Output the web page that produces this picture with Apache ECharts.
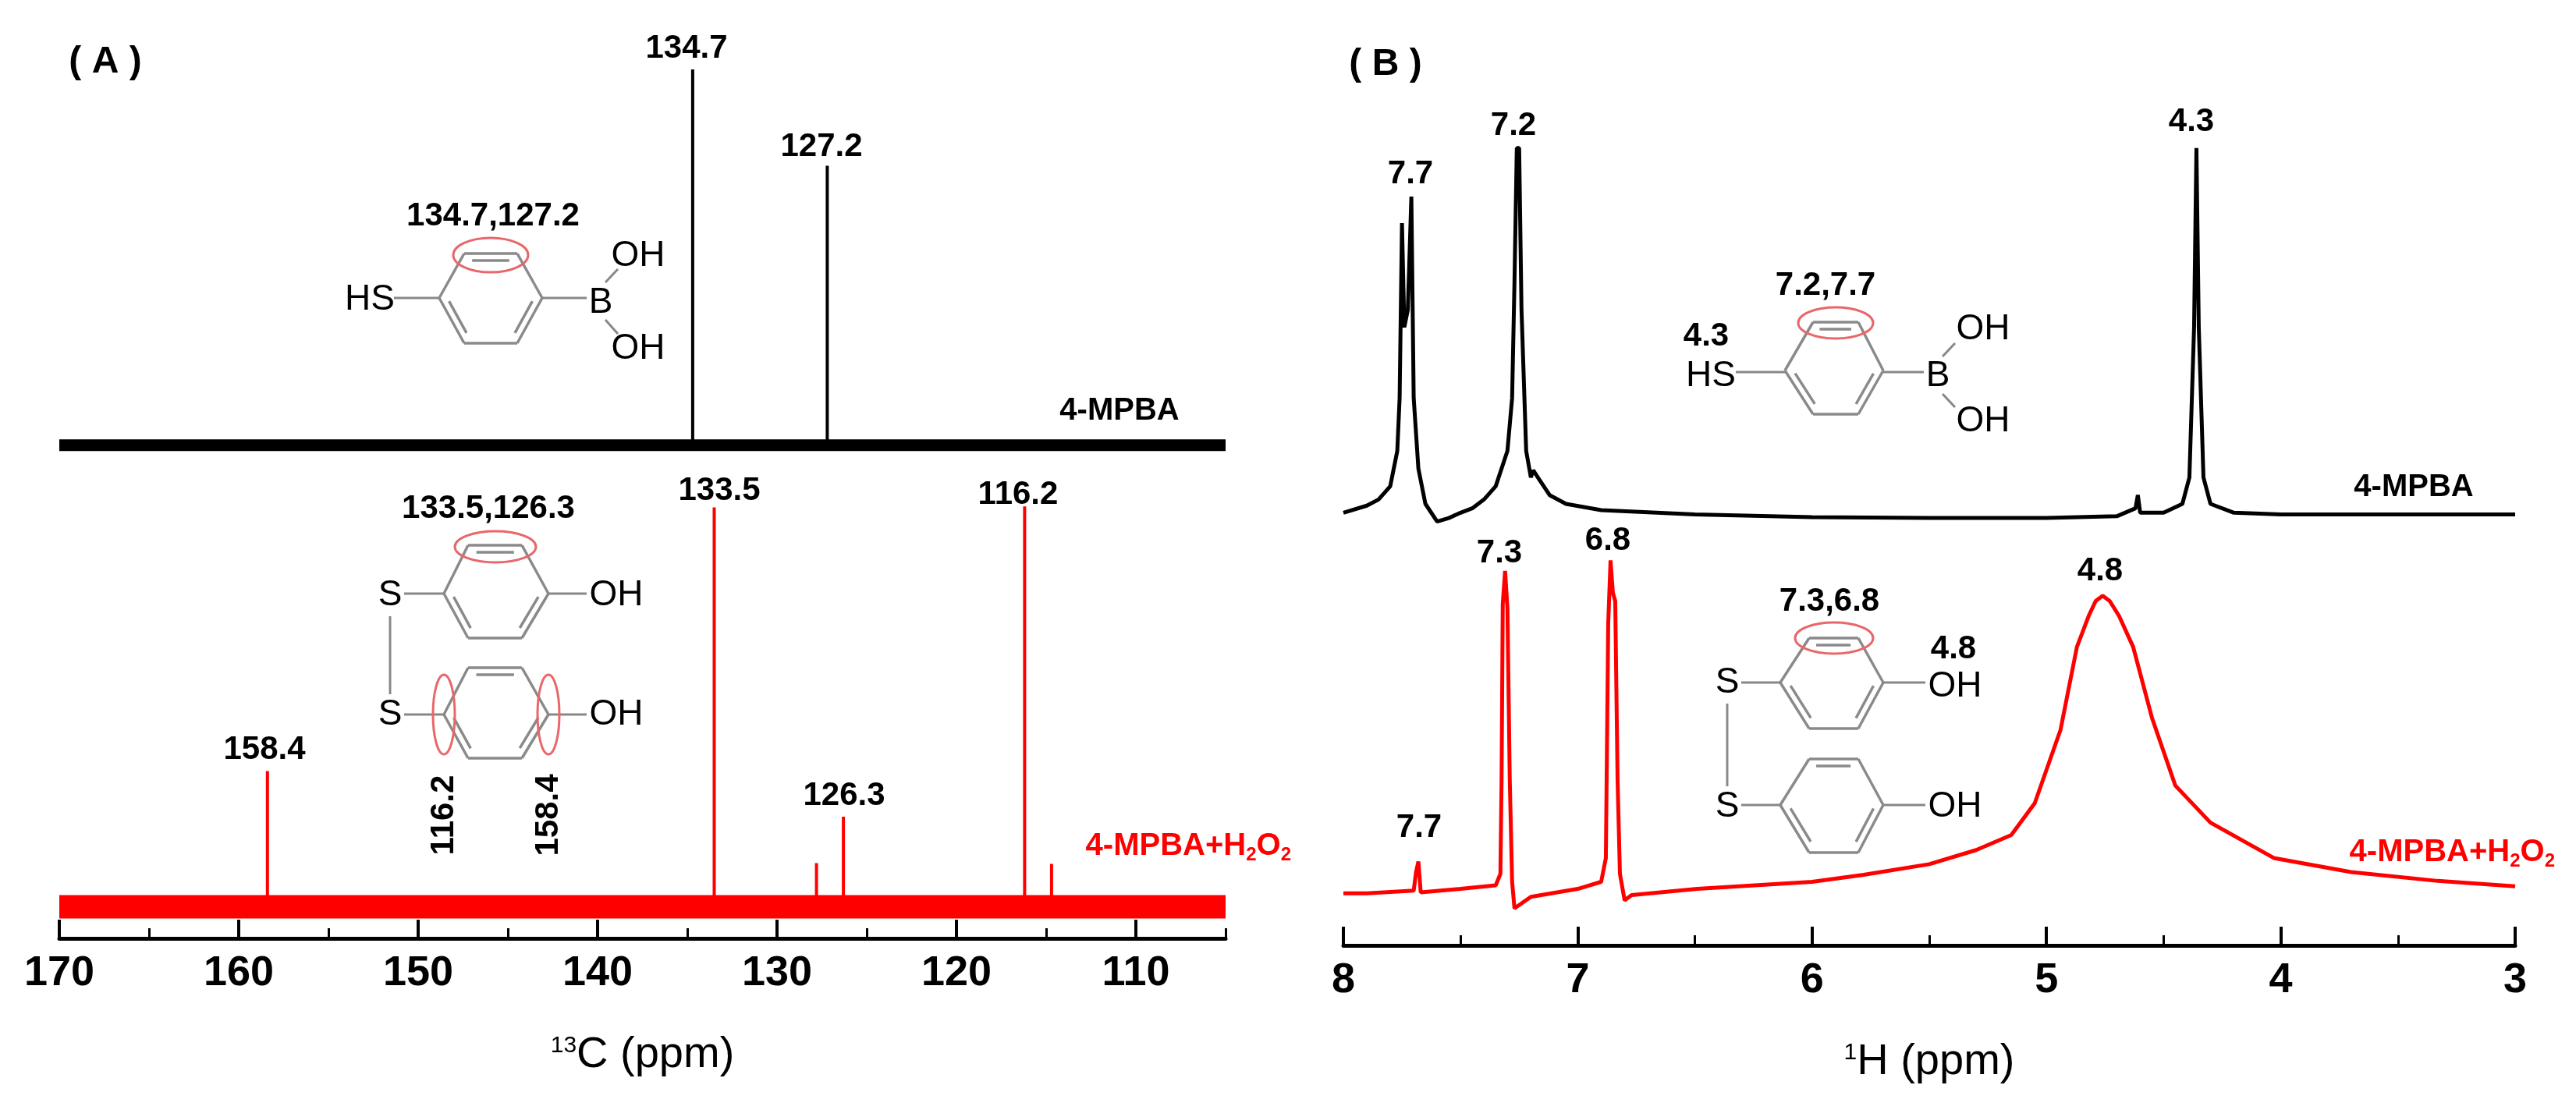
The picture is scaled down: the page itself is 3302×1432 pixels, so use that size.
<!DOCTYPE html>
<html><head><meta charset="utf-8">
<script src="https://cdn.jsdelivr.net/npm/echarts@6/dist/echarts.min.js"></script>
<style>html,body{margin:0;padding:0;background:#fff}#c{width:3302px;height:1432px}</style>
</head><body><div id="c"></div>
<script>
// ---- Data ----
const cTicks = [170, 160, 150, 140, 130, 120, 110];
const hTicks = [8, 7, 6, 5, 4, 3];
// 13C spectra (ppm, intensity): baseline level + sharp peaks
const cBlackBase = 56.3;
const cBlackPeaks = [[134.7, 99.2], [127.2, 88.2]];
const cRedBase = 3.6;
const cRedPeaks = [[158.4, 19.1], [133.5, 49.2], [127.8, 8.6], [126.3, 13.9], [116.2, 49.3], [114.7, 8.5]];
// 1H spectra (ppm, intensity)
const hBlack = [[8,49.0],[7.9,49.8],[7.85,50.5],[7.8,52],[7.77,56],[7.76,62],[7.75,81.8],[7.74,70],[7.725,72],[7.71,84.8],[7.70,62],[7.68,54],[7.65,50],[7.6,48],[7.55,48.4],[7.5,49],[7.45,49.5],[7.4,50.5],[7.35,52],[7.3,56],[7.28,62],[7.27,75],[7.26,90.3],[7.25,90.3],[7.24,72],[7.22,56],[7.2,53],[7.19,53.8],[7.17,53],[7.12,51],[7.05,50],[6.9,49.3],[6.5,48.8],[6,48.5],[5.5,48.4],[5,48.4],[4.7,48.6],[4.62,49.5],[4.61,51],[4.6,49],[4.5,49],[4.42,50],[4.39,53],[4.37,70],[4.36,90.3],[4.35,70],[4.33,53],[4.3,50],[4.2,49],[4,48.8],[3.5,48.8],[3,48.8]];
const hRed = [[8,5.9],[7.9,5.9],[7.7,6.2],[7.69,8.3],[7.68,9.5],[7.67,6.0],[7.5,6.4],[7.35,6.8],[7.33,8.1],[7.325,18.7],[7.32,38.6],[7.31,42.4],[7.30,38.2],[7.29,18.7],[7.28,7.2],[7.27,4.2],[7.2,5.5],[7.0,6.4],[6.9,7.2],[6.88,9.9],[6.87,36.4],[6.86,43.6],[6.85,39.9],[6.84,39.0],[6.83,18.7],[6.82,8.1],[6.8,5.1],[6.77,5.7],[6.49,6.4],[6.0,7.2],[5.78,8.0],[5.5,9.2],[5.3,10.8],[5.15,12.5],[5.05,16.1],[4.94,24.4],[4.87,33.8],[4.82,37.3],[4.79,39.0],[4.76,39.6],[4.73,39.0],[4.69,37.3],[4.63,33.8],[4.55,25.8],[4.45,18.1],[4.3,13.9],[4.03,9.9],[3.7,8.3],[3.33,7.3],[3.0,6.7]];

function stickSpectrum(base, peaks, xmax, xmin) {
  const d = [[xmax, base]];
  peaks.slice().sort((a, b) => b[0] - a[0]).forEach(p => { d.push([p[0], base], [p[0], p[1]], [p[0], base]); });
  d.push([xmin, base]);
  return d;
}

const FONT = "'Liberation Sans', Arial, sans-serif";
const chart = echarts.init(document.getElementById('c'), null, {renderer: 'canvas'});

function axisCommon() {
  return {
    axisLine: {lineStyle: {color: '#000', width: 5}},
    axisTick: {inside: true, length: 24, lineStyle: {color: '#000', width: 4}},
    axisLabel: {color: '#000', fontSize: 54, fontWeight: 'bold', fontFamily: FONT, margin: 18},
    splitLine: {show: false},
    nameLocation: 'middle', nameGap: 122,
    nameTextStyle: {color: '#000', fontSize: 56, fontFamily: FONT,
      rich: {s: {fontSize: 30, fontFamily: FONT, color: '#000', padding: [0, 0, 24, 0]}, n: {fontSize: 56, fontFamily: FONT, color: '#000'}}}
  };
}

// graphics
const G = [];
function txt(x, y, s, size, opts) {
  opts = opts || {};
  G.push({type: 'text', x: x, y: y, rotation: opts.rot || 0, z: 100,
    style: {text: s, fill: opts.color || '#000', font: (opts.weight || 'bold') + ' ' + size + 'px ' + FONT,
      textAlign: opts.align || 'center', textVerticalAlign: 'middle', rich: opts.rich}});
}
function seg(x1, y1, x2, y2, color, w) {
  G.push({type: 'line', z: 90, shape: {x1, y1, x2, y2}, style: {stroke: color || '#888', lineWidth: w || 3}});
}
function ell(cx, cy, rx, ry) {
  G.push({type: 'ellipse', z: 95, shape: {cx, cy, rx, ry}, style: {fill: 'none', stroke: '#e8676a', lineWidth: 3}});
}
function ring(TLx, TRx, Lx, Rx, ty, my, by, doubles) {
  const v = [[TLx, ty], [TRx, ty], [Rx, my], [TRx, by], [TLx, by], [Lx, my]];
  const cx = (Lx + Rx) / 2, cy = my;
  for (let i = 0; i < 6; i++) {
    const a = v[i], b = v[(i + 1) % 6];
    seg(a[0], a[1], b[0], b[1], '#8a8a8a', 3.5);
    if (doubles.indexOf(i) >= 0) {
      const mx = (a[0] + b[0]) / 2, mY = (a[1] + b[1]) / 2;
      const dx = cx - mx, dy = cy - mY, L = Math.hypot(dx, dy), o = 9;
      const ox = dx / L * o, oy = dy / L * o, k = 0.15;
      seg(a[0] + (b[0] - a[0]) * k + ox, a[1] + (b[1] - a[1]) * k + oy, b[0] - (b[0] - a[0]) * k + ox, b[1] - (b[1] - a[1]) * k + oy, '#8a8a8a', 3.5);
    }
  }
}
const STR = 46;
// Panel A labels
txt(135, 80, '( A )', 48);
txt(880, 62, '134.7', 42);
txt(1053, 188, '127.2', 42);
txt(922, 629, '133.5', 42);
txt(1305, 634, '116.2', 42);
txt(339, 961, '158.4', 42);
txt(1082, 1020, '126.3', 42);
txt(1435, 527, '4-MPBA', 40);
const redRich = {n: {fill: '#ff0000', font: 'bold 40px ' + FONT}, s: {fill: '#ff0000', font: 'bold 24px ' + FONT, padding: [22, 0, 0, 0]}};
txt(1655, 1085, '{n|4-MPBA+H}{s|2}{n|O}{s|2}', 40, {color: '#ff0000', align: 'right', rich: redRich});
// structure A1
txt(632, 277, '134.7,127.2', 42);
ring(595, 663, 563, 695, 325, 382, 440, [0, 2, 4]);
ell(629, 327, 48, 22);
txt(474, 384, 'HS', STR, {weight: 'normal'}); seg(505, 382, 563, 382);
txt(770, 388, 'B', STR, {weight: 'normal'}); seg(695, 382, 752, 382);
txt(818, 328, 'OH', STR, {weight: 'normal'}); txt(818, 447, 'OH', STR, {weight: 'normal'});
seg(776, 362, 792, 345); seg(776, 410, 792, 428);
// structure A2
txt(626, 652, '133.5,126.3', 42);
ring(600, 669, 569, 703, 699, 761, 818, [0, 2, 4]);
ell(635, 701, 52, 20);
txt(500, 763, 'S', STR, {weight: 'normal'}); seg(518, 761, 569, 761);
txt(790, 763, 'OH', STR, {weight: 'normal'}); seg(703, 761, 752, 761);
seg(500, 790, 500, 890);
ring(600, 669, 569, 703, 856, 916, 972, [0, 2, 4]);
txt(500, 916, 'S', STR, {weight: 'normal'}); seg(518, 916, 569, 916);
txt(790, 916, 'OH', STR, {weight: 'normal'}); seg(703, 916, 752, 916);
ell(569, 916, 14, 51); ell(703, 916, 14, 51);
txt(569, 1045, '116.2', 42, {rot: Math.PI / 2});
txt(703, 1045, '158.4', 42, {rot: Math.PI / 2});
// Panel B labels
txt(1776, 83, '( B )', 48);
txt(1808, 223, '7.7', 42);
txt(1940, 161, '7.2', 42);
txt(2809, 156, '4.3', 42);
txt(3094, 625, '4-MPBA', 40);
txt(1922, 709, '7.3', 42);
txt(2061, 693, '6.8', 42);
txt(2692, 732, '4.8', 42);
txt(1819, 1061, '7.7', 42);
txt(3275, 1093, '{n|4-MPBA+H}{s|2}{n|O}{s|2}', 40, {color: '#ff0000', align: 'right', rich: redRich});
// structure B1
txt(2340, 366, '7.2,7.7', 42);
ring(2324, 2382, 2288, 2414, 413, 475, 531, [0, 2, 4]);
ell(2353, 414, 48, 20);
txt(2187, 431, '4.3', 42);
txt(2193, 482, 'HS', STR, {weight: 'normal'}); seg(2225, 477, 2288, 477);
txt(2484, 482, 'B', STR, {weight: 'normal'}); seg(2414, 477, 2466, 477);
txt(2542, 422, 'OH', STR, {weight: 'normal'}); txt(2542, 540, 'OH', STR, {weight: 'normal'});
seg(2490, 457, 2506, 440); seg(2490, 505, 2506, 522);
// structure B2
txt(2345, 771, '7.3,6.8', 42);
ring(2319, 2382, 2282, 2414, 818, 875, 934, [0, 2, 4]);
ell(2351, 818, 50, 20);
txt(2214, 875, 'S', STR, {weight: 'normal'}); seg(2232, 875, 2282, 875);
txt(2504, 832, '4.8', 42);
txt(2506, 880, 'OH', STR, {weight: 'normal'}); seg(2414, 875, 2468, 875);
seg(2214, 902, 2214, 1008);
ring(2319, 2382, 2282, 2414, 973, 1032, 1093, [0, 2, 4]);
txt(2214, 1034, 'S', STR, {weight: 'normal'}); seg(2232, 1032, 2282, 1032);
txt(2506, 1034, 'OH', STR, {weight: 'normal'}); seg(2414, 1032, 2468, 1032);

const axA = axisCommon();
const axB = axisCommon();
chart.setOption({
  animation: false,
  backgroundColor: '#fff',
  grid: [
    {left: 76, right: 3302 - 1571, top: 80, bottom: 1432 - 1203},
    {left: 1722, right: 3302 - 3224, top: 80, bottom: 1432 - 1212}
  ],
  xAxis: [
    Object.assign({}, axA, {gridIndex: 0, type: 'value', min: 105, max: 170, inverse: true, position: 'bottom',
      name: '{s|13}{n|C (ppm)}',
      axisTick: Object.assign({}, axA.axisTick, {customValues: cTicks}),
      axisLabel: Object.assign({}, axA.axisLabel, {customValues: cTicks})}),
    {gridIndex: 0, type: 'value', min: 105, max: 170, interval: 5, inverse: true, position: 'bottom',
      axisLine: {show: false}, axisLabel: {show: false}, splitLine: {show: false},
      axisTick: {inside: true, length: 13, lineStyle: {color: '#000', width: 3}}},
    Object.assign({}, axB, {gridIndex: 1, type: 'value', min: 3, max: 8, interval: 1, inverse: true, position: 'bottom',
      name: '{s|1}{n|H (ppm)}',
      axisLabel: Object.assign({}, axB.axisLabel, {customValues: hTicks}),
      minorTick: {show: true, splitNumber: 2, length: 13, lineStyle: {color: '#000', width: 3}}})
  ],
  yAxis: [
    {gridIndex: 0, type: 'value', min: 0, max: 100, show: false},
    {gridIndex: 1, type: 'value', min: 0, max: 100, show: false}
  ],
  series: [
    {type: 'line', xAxisIndex: 0, yAxisIndex: 0, symbol: 'none', data: [[170, cBlackBase], [105, cBlackBase]], lineStyle: {color: '#000', width: 15}},
    {type: 'line', xAxisIndex: 0, yAxisIndex: 0, symbol: 'none', data: stickSpectrum(cBlackBase, cBlackPeaks, 170, 105), lineStyle: {color: '#000', width: 4}},
    {type: 'line', xAxisIndex: 0, yAxisIndex: 0, symbol: 'none', data: [[170, cRedBase], [105, cRedBase]], lineStyle: {color: '#ff0000', width: 30}},
    {type: 'line', xAxisIndex: 0, yAxisIndex: 0, symbol: 'none', data: stickSpectrum(cRedBase, cRedPeaks, 170, 105), lineStyle: {color: '#ff0000', width: 4}},
    {type: 'line', xAxisIndex: 2, yAxisIndex: 1, symbol: 'none', data: hBlack, lineStyle: {color: '#000', width: 5}},
    {type: 'line', xAxisIndex: 2, yAxisIndex: 1, symbol: 'none', data: hRed, lineStyle: {color: '#ff0000', width: 5}}
  ],
  graphic: G
});
</script></body></html>
